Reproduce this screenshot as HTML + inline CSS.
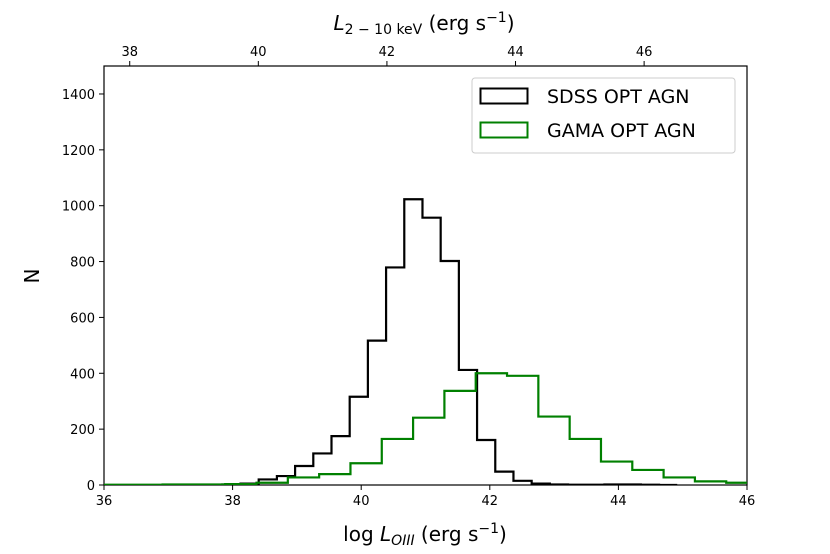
<!DOCTYPE html>
<html><head><meta charset="utf-8"><style>
body{margin:0;background:#fff}
svg{display:block;font-family:"DejaVu Sans","Liberation Sans",sans-serif}
</style></head><body>
<svg id="chart" width="830" height="554">
<rect x="104" y="66" width="643" height="419" fill="none" stroke="#000" stroke-width="1.2"/>
<g id="marks"></g>
<g id="axes"></g>
<text x="425" y="541" font-size="20" text-anchor="middle">log <tspan font-style="italic">L</tspan><tspan font-style="italic" font-size="14" dy="4">OIII</tspan><tspan dy="-4"> (erg s</tspan><tspan font-size="14" dy="-8">−1</tspan><tspan dy="8">)</tspan></text>
<text x="0" y="0" font-size="20" text-anchor="middle" transform="translate(39,276) rotate(-90)">N</text>
<text x="424" y="30" font-size="20" text-anchor="middle"><tspan font-style="italic">L</tspan><tspan font-size="14" dy="4">2 − 10 keV</tspan><tspan dy="-4"> (erg s</tspan><tspan font-size="14" dy="-8">−1</tspan><tspan dy="8">)</tspan></text>
<g>
<rect x="472" y="78" width="263" height="75" rx="3" fill="#fff" stroke="#ccc" stroke-width="1"/>
<rect x="480.5" y="88.5" width="47" height="15" fill="none" stroke="#000" stroke-width="2"/>
<text x="547" y="103" font-size="19">SDSS OPT AGN</text>
<rect x="480.5" y="122.5" width="47" height="15" fill="none" stroke="#008000" stroke-width="2"/>
<text x="547" y="137" font-size="19">GAMA OPT AGN</text>
</g>
</svg>
<script>
const xTicks=[36,38,40,42,44,46];
const yTicks=[0,200,400,600,800,1000,1200,1400];
const topTicks=[38,40,42,44,46];
const sdssStart=37.84, sdssWidth=0.283;
const sdssCounts=[2,5,20,32,68,113,175,316,517,779,1023,957,802,412,161,48,15,5,2,1,1,2,2,1,0];
const gamaStart=35.45, gamaWidth=0.487;
const gamaCounts=[1,1,1,2,2,3,8,27,39,78,165,241,337,400,391,245,165,84,54,27,13,8];
const topOffset=1.6;
const X0=104,X1=747,Y0=485,Y1=66;
const xs=v=>X0+(v-36)/10*(X1-X0);
const ys=v=>Y0-v*0.2793;
const NS="http://www.w3.org/2000/svg";
const marks=document.getElementById('marks'),axes=document.getElementById('axes');
function mk(t,a,p){const e=document.createElementNS(NS,t);for(const k in a)e.setAttribute(k,a[k]);p.appendChild(e);return e;}
function stepPath(start,w,counts){let d='M'+xs(start)+','+ys(0);counts.forEach((c,i)=>{const a=xs(start+i*w),b=xs(start+(i+1)*w);d+=' L'+a+','+ys(c)+' L'+b+','+ys(c);});d+=' L'+xs(start+counts.length*w)+','+ys(0);return d;}
const cp=mk('clipPath',{id:'cp'},marks);mk('rect',{x:X0,y:Y1,width:X1-X0,height:Y0-Y1},cp);
const p1=mk('path',{d:stepPath(sdssStart,sdssWidth,sdssCounts),fill:'none',stroke:'#000','stroke-width':2.2,'clip-path':'url(#cp)'},marks);


const p2=mk('path',{d:stepPath(gamaStart,gamaWidth,gamaCounts),fill:'none',stroke:'#008000','stroke-width':2.2,'clip-path':'url(#cp)'},marks);


xTicks.forEach(v=>{const x=xs(v);mk('line',{x1:x,x2:x,y1:Y0,y2:Y0+5,stroke:'#000'},axes);
const t=mk('text',{x:x,y:Y0+20,'font-size':13,'text-anchor':'middle'},axes);t.textContent=v;

});
yTicks.forEach(v=>{const y=ys(v);mk('line',{x1:X0-5,x2:X0,y1:y,y2:y,stroke:'#000'},axes);
const t=mk('text',{x:X0-9,y:y+5,'font-size':13,'text-anchor':'end'},axes);t.textContent=v;

});
topTicks.forEach(v=>{const x=xs(v-topOffset);mk('line',{x1:x,x2:x,y1:Y1-5,y2:Y1,stroke:'#000'},axes);
const t=mk('text',{x:x,y:Y1-10,'font-size':13,'text-anchor':'middle'},axes);t.textContent=v;

});
</script>
</body></html>
